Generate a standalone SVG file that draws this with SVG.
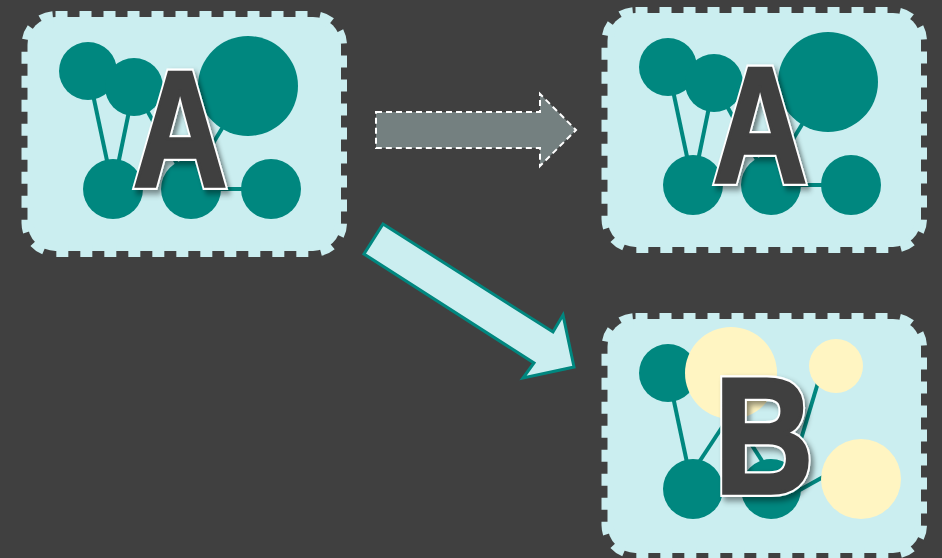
<svg xmlns="http://www.w3.org/2000/svg" width="942" height="558" viewBox="0 0 942 558">
<defs>
<filter id="sh" x="-20%" y="-20%" width="150%" height="150%">
<feDropShadow dx="4" dy="4" stdDeviation="3" flood-color="#000" flood-opacity="0.45"/>
</filter>
</defs>
<style>
.panel{fill:#CBEEF0;stroke:#CBEEF0;stroke-width:12;stroke-dasharray:12 12}
.t{fill:#00877F}
.y{fill:#FFF5C2}
.ln{stroke:#00877F;stroke-width:4;fill:none}
.letter{font-family:"Liberation Sans",Arial,sans-serif;font-weight:bold;font-size:165px;text-anchor:middle}
.lo{fill:#FFFFFF;stroke:#FFFFFF;stroke-width:8;stroke-linejoin:miter;stroke-miterlimit:3;filter:url(#sh)}
.li{fill:#404040;stroke:#404040;stroke-width:3.5;stroke-linejoin:miter;stroke-miterlimit:3}
</style>
<rect width="942" height="558" fill="#404040"/>
<g id="panelA1">
<rect class="panel" x="27.5" y="17" width="313.5" height="234" rx="28"/>
<line class="ln" x1="88" y1="71" x2="113" y2="189"/>
<line class="ln" x1="134" y1="87" x2="113" y2="189"/>
<line class="ln" x1="134" y1="87" x2="191" y2="189"/>
<line class="ln" x1="248" y1="86" x2="185" y2="189"/>
<line class="ln" x1="191" y1="189" x2="271" y2="189"/>
<circle class="t" cx="88" cy="71" r="29"/>
<circle class="t" cx="134" cy="87" r="29"/>
<circle class="t" cx="248" cy="86" r="50"/>
<circle class="t" cx="113" cy="189" r="30"/>
<circle class="t" cx="191" cy="189" r="30"/>
<circle class="t" cx="271" cy="189" r="30"/>
<g transform="translate(180,186) scale(0.79,1)">
<text class="letter lo">A</text>
<text class="letter li">A</text>
</g>
</g>
<g id="panelA2" transform="translate(580,-4)">
<rect class="panel" x="27.5" y="17" width="313.5" height="234" rx="28"/>
<line class="ln" x1="88" y1="71" x2="113" y2="189"/>
<line class="ln" x1="134" y1="87" x2="113" y2="189"/>
<line class="ln" x1="134" y1="87" x2="191" y2="189"/>
<line class="ln" x1="248" y1="86" x2="185" y2="189"/>
<line class="ln" x1="191" y1="189" x2="271" y2="189"/>
<circle class="t" cx="88" cy="71" r="29"/>
<circle class="t" cx="134" cy="87" r="29"/>
<circle class="t" cx="248" cy="86" r="50"/>
<circle class="t" cx="113" cy="189" r="30"/>
<circle class="t" cx="191" cy="189" r="30"/>
<circle class="t" cx="271" cy="189" r="30"/>
<g transform="translate(180,186) scale(0.79,1)">
<text class="letter lo">A</text>
<text class="letter li">A</text>
</g>
</g>
<g id="panelB">
<rect class="panel" x="607.5" y="319" width="313.5" height="234" rx="28"/>
<line class="ln" x1="668" y1="373" x2="693" y2="491"/>
<line class="ln" x1="680" y1="491" x2="740" y2="400"/>
<line class="ln" x1="721" y1="397" x2="780" y2="489"/>
<line class="ln" x1="786" y1="489" x2="823" y2="366"/>
<line class="ln" x1="771" y1="506" x2="850" y2="462"/>
<circle class="t" cx="668" cy="373" r="29"/>
<circle class="t" cx="693" cy="489" r="30"/>
<circle class="t" cx="771" cy="489" r="30"/>
<circle class="y" cx="731" cy="373" r="46"/>
<circle class="y" cx="836" cy="366" r="27"/>
<circle class="y" cx="861" cy="479" r="40"/>
<g transform="translate(764,493) scale(0.83,1)">
<text class="letter lo">B</text>
<text class="letter li">B</text>
</g>
</g>
<g id="connectors">
<path d="M376,112 H540 V94 L576,130 L540,166 V148 H376 Z" fill="#748080" stroke="#FFFFFF" stroke-width="2" stroke-dasharray="6 4"/>
<path d="M383,224 L553,332 L563,315 L574,367 L523,378 L534,363 L364,254 Z" fill="#CBEEF0" stroke="#00877F" stroke-width="3" stroke-linejoin="miter"/>
</g>
</svg>
